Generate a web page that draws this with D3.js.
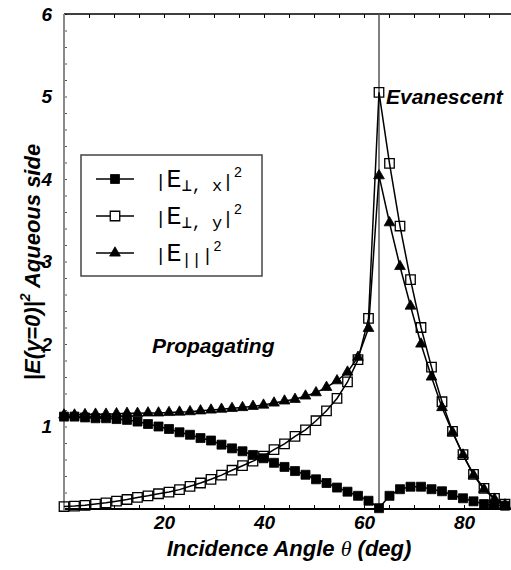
<!DOCTYPE html>
<html>
<head>
<meta charset="utf-8">
<script src="https://cdn.jsdelivr.net/npm/d3@7"></script>
<style>
body { margin: 0; background: #fff; }
svg { display: block; }
</style>
</head>
<body>
<div id="chart"></div>
<script>
// incidence angles (deg) where the markers sit
var angles = [0, 2.1, 4.2, 6.3, 8.4, 10.5, 12.6, 14.7, 16.8, 18.9,
  21, 23.1, 25.2, 27.3, 29.4, 31.5, 33.6, 35.7, 37.8, 39.9,
  42, 44.1, 46.2, 48.3, 50.4, 52.5, 54.6, 56.7, 58.8, 60.9,
  63, 65.1, 67.2, 69.3, 71.4, 73.5, 75.6, 77.7, 79.8, 81.9,
  84, 86.1, 88.2];

// |E_perp,x|^2  (filled squares)
var perpX = [1.12, 1.12, 1.11, 1.10, 1.10, 1.09, 1.08, 1.06, 1.03, 1.00,
  0.97, 0.93, 0.90, 0.86, 0.83, 0.78, 0.735, 0.70, 0.655, 0.615,
  0.56, 0.51, 0.46, 0.415, 0.36, 0.315, 0.26, 0.21, 0.16, 0.10,
  0.01, 0.16, 0.24, 0.27, 0.27, 0.24, 0.215, 0.17, 0.13, 0.093,
  0.06, 0.05, 0.04];

// |E_perp,y|^2  (open squares)
var perpY = [0.03, 0.035, 0.045, 0.06, 0.075, 0.095, 0.115, 0.14, 0.16, 0.185,
  0.205, 0.235, 0.275, 0.315, 0.36, 0.41, 0.47, 0.525, 0.58, 0.64,
  0.72, 0.79, 0.88, 0.96, 1.07, 1.19, 1.34, 1.54, 1.81, 2.31,
  5.05, 4.19, 3.43, 2.78, 2.20, 1.72, 1.30, 0.94, 0.66, 0.42,
  0.25, 0.13, 0.06];

// |E_par|^2  (triangles)
var para = [1.14, 1.14, 1.145, 1.15, 1.15, 1.155, 1.16, 1.16, 1.165, 1.165,
  1.17, 1.175, 1.18, 1.19, 1.20, 1.21, 1.22, 1.23, 1.245, 1.26,
  1.285, 1.31, 1.33, 1.37, 1.41, 1.475, 1.555, 1.66, 1.84, 2.19,
  4.04, 3.47, 2.94, 2.46, 2.00, 1.60, 1.23, 0.93, 0.655, 0.41,
  0.24, 0.12, 0.05];

var xTickLabels = [20, 40, 60, 80];
var yTickLabels = [1, 2, 3, 4, 5, 6];
var criticalAngle = 63;

var W = 511, H = 570;
var svg = d3.select("#chart").append("svg")
  .attr("width", W).attr("height", H);

var x = d3.scaleLinear().domain([0, 90]).range([64, 514]);
var y = d3.scaleLinear().domain([0, 6]).range([509, 14]);

var boldIt = "'Liberation Sans', Arial, sans-serif";

// bottom axis, ticks pointing in
svg.append("g")
  .attr("transform", "translate(0," + y(0) + ")")
  .call(d3.axisBottom(x).tickValues(d3.range(0, 91, 5)).tickSize(-4).tickPadding(7)
    .tickFormat(function (d) { return xTickLabels.indexOf(d) >= 0 ? d : ""; }))
  .call(function (g) {
    g.select(".domain").remove();
    g.selectAll("line").attr("stroke", "#000");
    g.selectAll("text").attr("font-family", boldIt).attr("font-size", 19)
      .attr("font-weight", "bold").attr("font-style", "italic").attr("fill", "#000");
  });

// top axis
svg.append("g")
  .attr("transform", "translate(0," + y(6) + ")")
  .call(d3.axisTop(x).tickValues(d3.range(0, 91, 5)).tickSize(-4).tickFormat(""))
  .call(function (g) {
    g.select(".domain").remove();
    g.selectAll("line").attr("stroke", "#000");
  });

// left axis
svg.append("g")
  .attr("transform", "translate(" + x(0) + ",0)")
  .call(d3.axisLeft(y).tickValues(d3.range(0, 6.01, 0.2)).tickSize(-3).tickPadding(12)
    .tickFormat(function (d) {
      var r = Math.round(d);
      return Math.abs(d - r) < 1e-6 && yTickLabels.indexOf(r) >= 0 ? r : "";
    }))
  .call(function (g) {
    g.select(".domain").remove();
    g.selectAll("line").attr("stroke", "#555");
    g.selectAll("text").attr("font-family", boldIt).attr("font-size", 19)
      .attr("font-weight", "bold").attr("font-style", "italic").attr("fill", "#000");
  });

// frame lines
svg.append("line").attr("x1", x(0)).attr("x2", W).attr("y1", y(6)).attr("y2", y(6))
  .attr("stroke", "#000").attr("stroke-width", 1.5);
svg.append("line").attr("x1", x(0)).attr("x2", W).attr("y1", y(0)).attr("y2", y(0))
  .attr("stroke", "#000").attr("stroke-width", 1.8);
svg.append("line").attr("x1", x(0)).attr("x2", x(0)).attr("y1", y(6)).attr("y2", y(0) + 1)
  .attr("stroke", "#8a8a8a").attr("stroke-width", 2);

// critical angle
svg.append("line")
  .attr("x1", x(criticalAngle)).attr("x2", x(criticalAngle))
  .attr("y1", y(6)).attr("y2", y(0))
  .attr("stroke", "#555").attr("stroke-width", 1.5);

function rows(vals) {
  return angles.map(function (a, i) { return { a: a, v: vals[i] }; });
}

var line = d3.line().x(function (d) { return x(d.a); }).y(function (d) { return y(d.v); });

var series = [
  { name: "perpX", data: rows(perpX), sym: d3.symbolSquare, size: 81, fill: "#000" },
  { name: "para", data: rows(para), sym: d3.symbolTriangle, size: 50, fill: "#000" },
  { name: "perpY", data: rows(perpY), sym: d3.symbolSquare, size: 90, fill: "none" }
];

series.forEach(function (s) {
  svg.append("path").datum(s.data)
    .attr("d", line).attr("fill", "none")
    .attr("stroke", "#000").attr("stroke-width", 1.5);
  svg.append("g").selectAll("path").data(s.data).enter()
    .append("path")
    .attr("transform", function (d) { return "translate(" + x(d.a) + "," + y(d.v) + ")"; })
    .attr("d", d3.symbol().type(s.sym).size(s.size))
    .attr("fill", s.fill)
    .attr("stroke", "#000")
    .attr("stroke-width", s.fill === "none" ? 1.3 : 0.8);
});

// region labels
svg.append("text").attr("x", 386).attr("y", 104)
  .attr("font-family", boldIt).attr("font-size", 21).attr("font-weight", "bold")
  .attr("font-style", "italic").text("Evanescent");
svg.append("text").attr("x", 152).attr("y", 353)
  .attr("font-family", boldIt).attr("font-size", 21).attr("font-weight", "bold")
  .attr("font-style", "italic").text("Propagating");

// axis titles
var xt = svg.append("text").attr("x", 289).attr("y", 556).attr("text-anchor", "middle")
  .attr("font-family", boldIt).attr("font-size", 22).attr("font-weight", "bold")
  .attr("font-style", "italic");
xt.append("tspan").text("Incidence Angle ");
xt.append("tspan").attr("font-family", "'Liberation Serif', serif").attr("font-weight", "normal").text("θ");
xt.append("tspan").text("  (deg)");

var yt = svg.append("text").attr("transform", "translate(40,262) rotate(-90)")
  .attr("text-anchor", "middle")
  .attr("font-family", boldIt).attr("font-size", 22).attr("font-weight", "bold")
  .attr("font-style", "italic");
yt.append("tspan").text("|E(y=0)|");
yt.append("tspan").attr("font-size", 14).attr("dy", -10).text("2");
yt.append("tspan").attr("dy", 10).text(" Aqueous side");

// legend
var lg = svg.append("g");
lg.append("rect").attr("x", 81).attr("y", 155).attr("width", 181).attr("height", 121)
  .attr("fill", "#fff").attr("stroke", "#444").attr("stroke-width", 1.5);

var legendRows = [
  { sym: d3.symbolSquare, size: 81, fill: "#000", sub: "\u22A5, x" },
  { sym: d3.symbolSquare, size: 90, fill: "#fff", sub: "\u22A5, y" },
  { sym: d3.symbolTriangle, size: 50, fill: "#000", sub: "||" }
];
var mono = "'Liberation Mono', 'Courier New', monospace";
legendRows.forEach(function (r, i) {
  var cy = 179 + i * 37;
  lg.append("line").attr("x1", 96).attr("x2", 134).attr("y1", cy).attr("y2", cy)
    .attr("stroke", "#000").attr("stroke-width", 1.5);
  lg.append("path").attr("transform", "translate(115," + cy + ")")
    .attr("d", d3.symbol().type(r.sym).size(r.size))
    .attr("fill", r.fill).attr("stroke", "#000").attr("stroke-width", r.fill === "#fff" ? 1.3 : 0.8);
  var t = lg.append("text").attr("x", 155).attr("y", cy + 8).attr("font-family", mono).attr("fill", "#000");
  t.append("tspan").attr("font-size", 19).text("|");
  t.append("tspan").attr("font-size", 25).text("E");
  t.append("tspan").attr("font-size", 17).attr("dy", 4).text(r.sub);
  t.append("tspan").attr("font-size", 19).attr("dy", -4).text("|");
  t.append("tspan").attr("font-size", 14).attr("dy", -10).text("2");
});
</script>
</body>
</html>
